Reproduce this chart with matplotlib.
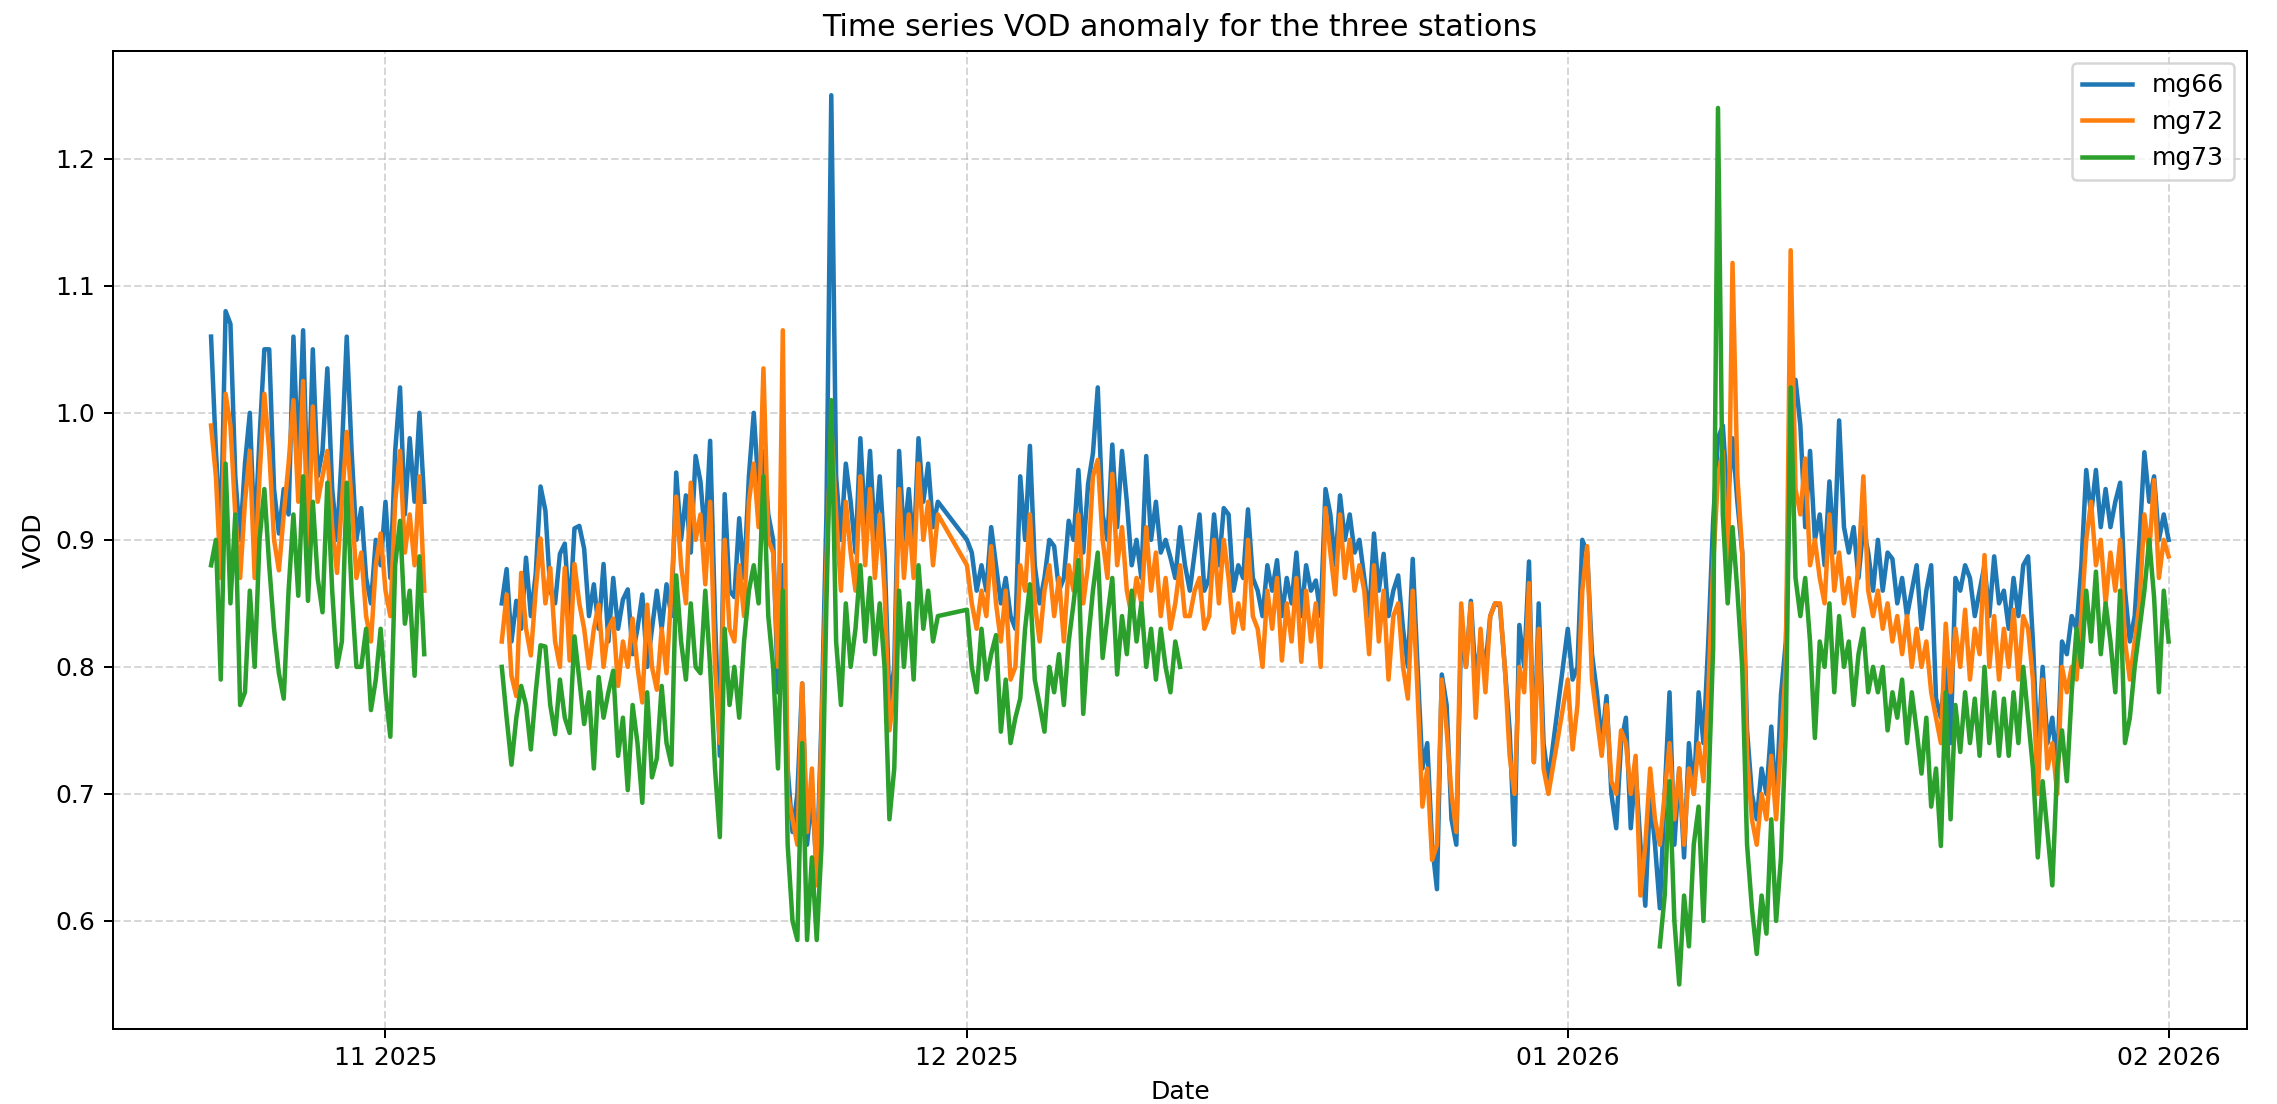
import numpy as np
import pandas as pd
import matplotlib
matplotlib.use('Agg')
from matplotlib import pyplot as plt
import matplotlib.dates as mdates

nan = np.nan

# 6-hourly samples, one row of 4 values per day

# Block A: 2025-10-23 00:00 .. 2025-11-03 00:00, then a hole in the record
a_start = '2025-10-23'
mg66_a = [1.06, 0.97, 0.90, 1.08, 1.07, 0.95, 0.90, 0.96, 1.00, 0.90, 0.98, 1.05,
          1.05, 0.94, 0.905, 0.94, 0.92, 1.06, 0.96, 1.065, 0.92, 1.05, 0.95, 0.97,
          1.035, 0.94, 0.90, 0.97, 1.06, 0.97, 0.90, 0.925, 0.87, 0.85, 0.90, 0.88,
          0.93, 0.87, 0.97, 1.02, 0.92, 0.98, 0.93, 1.00, 0.93]
mg72_a = [0.99, 0.95, 0.87, 1.015, 0.99, 0.92, 0.87, 0.93, 0.97, 0.87, 0.95, 1.015,
          0.97, 0.90, 0.876, 0.92, 0.96, 1.01, 0.93, 1.025, 0.89, 1.005, 0.93, 0.95,
          0.97, 0.91, 0.874, 0.93, 0.985, 0.93, 0.87, 0.89, 0.84, 0.82, 0.88, 0.905,
          0.86, 0.84, 0.93, 0.97, 0.89, 0.92, 0.88, 0.95, 0.86]
mg73_a = [0.88, 0.90, 0.79, 0.96, 0.85, 0.92, 0.77, 0.78, 0.86, 0.80, 0.90, 0.94,
          0.88, 0.83, 0.795, 0.775, 0.86, 0.92, 0.856, 0.95, 0.852, 0.93, 0.87, 0.843,
          0.945, 0.86, 0.80, 0.82, 0.945, 0.86, 0.80, 0.80, 0.83, 0.766, 0.79, 0.83,
          0.78, 0.745, 0.88, 0.915, 0.834, 0.86, 0.793, 0.887, 0.81]

# Block B: 2025-11-07 00:00 .. 2025-11-29 12:00 (then no rows until Dec 1)
b_start = '2025-11-07'
mg66_b = [0.85, 0.877, 0.82, 0.852, 0.83, 0.886, 0.84, 0.873, 0.942, 0.923, 0.86, 0.85,
          0.889, 0.897, 0.84, 0.909, 0.911, 0.893, 0.84, 0.865, 0.83, 0.881, 0.82, 0.87,
          0.83, 0.853, 0.861, 0.81, 0.83, 0.857, 0.80, 0.83, 0.86, 0.83, 0.865, 0.84,
          0.953, 0.90, 0.935, 0.89, 0.966, 0.946, 0.90,
          0.978, 0.84, 0.73, 0.936, 0.86, 0.855, 0.917, 0.87, 0.95, 1.00, 0.94, 0.97,
          0.92, 0.90, 0.78, 0.88, 0.72, 0.67, 0.70, 0.787, 0.66, 0.70, 0.64, 0.76,
          0.92, 1.25, 0.95, 0.90, 0.96, 0.93, 0.89, 0.98, 0.91, 0.97, 0.90, 0.95,
          0.89, 0.77, 0.80, 0.97, 0.90, 0.94, 0.89, 0.98, 0.93, 0.96, 0.91, 0.93]
mg72_b = [0.82, 0.857, 0.793, 0.777, 0.874, 0.83, 0.809, 0.86, 0.901, 0.85, 0.878, 0.82,
          0.80, 0.878, 0.805, 0.881, 0.85, 0.83, 0.799, 0.83, 0.849, 0.80, 0.83, 0.838,
          0.785, 0.82, 0.80, 0.838, 0.80, 0.772, 0.849, 0.80, 0.782, 0.83, 0.795, 0.86,
          0.934, 0.88, 0.85, 0.945, 0.90, 0.92, 0.865,
          0.93, 0.80, 0.74, 0.90, 0.83, 0.82, 0.88, 0.84, 0.93, 0.96, 0.91, 1.035,
          0.90, 0.89, 0.80, 1.065, 0.70, 0.68, 0.66, 0.787, 0.67, 0.72, 0.628, 0.75,
          0.88, 0.99, 0.92, 0.86, 0.93, 0.89, 0.86, 0.95, 0.88, 0.94, 0.87, 0.92,
          0.86, 0.75, 0.78, 0.94, 0.87, 0.92, 0.87, 0.96, 0.90, 0.93, 0.88, 0.92]
mg73_b = [0.80, 0.76, 0.723, 0.76, 0.785, 0.77, 0.735, 0.78, 0.817, 0.816, 0.77, 0.747,
          0.79, 0.76, 0.748, 0.824, 0.79, 0.755, 0.78, 0.72, 0.792, 0.76, 0.78, 0.797,
          0.73, 0.76, 0.703, 0.77, 0.74, 0.693, 0.78, 0.713, 0.728, 0.785, 0.74, 0.723,
          0.872, 0.82, 0.79, 0.85, 0.80, 0.795, 0.86,
          0.80, 0.72, 0.666, 0.83, 0.77, 0.80, 0.76, 0.82, 0.86, 0.88, 0.85, 0.95,
          0.84, 0.80, 0.72, 0.86, 0.66, 0.60, 0.585, 0.74, 0.585, 0.65, 0.585, 0.66,
          0.85, 1.01, 0.82, 0.77, 0.85, 0.80, 0.83, 0.88, 0.82, 0.87, 0.81, 0.85,
          0.80, 0.68, 0.72, 0.86, 0.80, 0.85, 0.79, 0.88, 0.83, 0.86, 0.82, 0.84]

# Block C: 2025-12-01 00:00 .. 2025-12-31 00:00 (mg73 stops mid December)
c_start = '2025-12-01'
mg66_c = [0.90, 0.89, 0.86, 0.88, 0.86, 0.91, 0.88, 0.85, 0.87, 0.84, 0.83, 0.95,
          0.90, 0.974, 0.88, 0.85, 0.87, 0.90, 0.895, 0.86, 0.87, 0.915, 0.90, 0.955,
          0.89, 0.944, 0.968, 1.02, 0.92, 0.90, 0.975, 0.91, 0.97, 0.93, 0.88, 0.90,
          0.87, 0.966, 0.90, 0.93, 0.89, 0.90, 0.886, 0.87, 0.91,
          0.88, 0.86, 0.89, 0.92, 0.86, 0.87, 0.92, 0.88, 0.925, 0.92, 0.86, 0.88,
          0.87, 0.924, 0.87, 0.86, 0.84, 0.88, 0.86, 0.884, 0.84, 0.87, 0.85, 0.89,
          0.84, 0.88, 0.86, 0.868, 0.84, 0.94, 0.92, 0.88, 0.935, 0.90, 0.92, 0.89,
          0.90, 0.87, 0.84, 0.905, 0.86, 0.889, 0.84, 0.86, 0.872, 0.83, 0.80, 0.885,
          0.80, 0.72, 0.74, 0.66, 0.625, 0.794, 0.77, 0.68, 0.66, 0.83, 0.80, 0.852,
          0.79, 0.82, 0.80, 0.84, 0.85, 0.848, 0.80, 0.75, 0.66, 0.833, 0.80, 0.883,
          0.725, 0.85, 0.74, 0.71]
mg72_c = [0.88, 0.85, 0.83, 0.86, 0.84, 0.895, 0.85, 0.82, 0.86, 0.79, 0.80, 0.88,
          0.86, 0.92, 0.85, 0.82, 0.86, 0.88, 0.84, 0.87, 0.82, 0.88, 0.86, 0.92,
          0.85, 0.88, 0.95, 0.963, 0.90, 0.87, 0.952, 0.88, 0.91, 0.86, 0.84, 0.87,
          0.85, 0.91, 0.86, 0.89, 0.84, 0.87, 0.83, 0.85, 0.88,
          0.84, 0.84, 0.86, 0.87, 0.83, 0.84, 0.90, 0.85, 0.90, 0.87, 0.827, 0.85,
          0.83, 0.90, 0.84, 0.83, 0.80, 0.86, 0.83, 0.87, 0.805, 0.85, 0.82, 0.87,
          0.804, 0.86, 0.82, 0.85, 0.80, 0.925, 0.89, 0.857, 0.92, 0.87, 0.90, 0.86,
          0.88, 0.86, 0.81, 0.88, 0.82, 0.86, 0.79, 0.84, 0.85, 0.80, 0.775, 0.86,
          0.78, 0.69, 0.72, 0.648, 0.66, 0.79, 0.75, 0.70, 0.67, 0.85, 0.80, 0.85,
          0.76, 0.83, 0.78, 0.84, 0.85, 0.85, 0.80, 0.73, 0.70, 0.80, 0.78, 0.866,
          0.725, 0.83, 0.72, 0.70]
mg73_c = [0.845, 0.80, 0.78, 0.83, 0.79, 0.81, 0.825, 0.749, 0.79, 0.74, 0.76, 0.775,
          0.83, 0.865, 0.79, 0.77, 0.749, 0.80, 0.78, 0.81, 0.77, 0.82, 0.85, 0.884,
          0.763, 0.82, 0.86, 0.89, 0.807, 0.84, 0.87, 0.794, 0.84, 0.81, 0.86, 0.82,
          0.85, 0.80, 0.83, 0.79, 0.83, 0.80, 0.78, 0.82, 0.80] + [nan] * 76

# Block D: 2026-01-01 00:00 .. 2026-02-01 00:00 (mg73 back from Jan 5)
d_start = '2026-01-01'
mg66_d = [0.83, 0.79, 0.80, 0.90, 0.89, 0.81, 0.78, 0.74, 0.777, 0.70, 0.673, 0.74,
          0.76, 0.673, 0.72, 0.66, 0.612, 0.70, 0.66, 0.61, 0.70, 0.78, 0.66, 0.72,
          0.65, 0.74, 0.70, 0.78, 0.74, 0.82, 0.915, 0.98, 0.99, 0.93, 0.98, 0.93,
          0.89, 0.75, 0.70, 0.68, 0.72, 0.70, 0.753, 0.69, 0.778, 0.82, 0.97, 1.026,
          0.99, 0.91, 0.97, 0.90, 0.92, 0.88, 0.946, 0.89, 0.994, 0.91, 0.89, 0.91,
          0.87, 0.91, 0.89, 0.86, 0.90, 0.86, 0.89, 0.885, 0.85, 0.87, 0.84, 0.86,
          0.88, 0.83, 0.86, 0.88, 0.775, 0.76, 0.80, 0.74, 0.87, 0.86, 0.88, 0.87,
          0.84, 0.86, 0.88, 0.84, 0.887, 0.85, 0.86, 0.83, 0.87, 0.84, 0.88, 0.887,
          0.82, 0.73, 0.80, 0.74, 0.76, 0.72, 0.82, 0.81, 0.84, 0.83, 0.88, 0.955,
          0.92, 0.955, 0.91, 0.94, 0.91, 0.93, 0.945, 0.86, 0.82, 0.84, 0.90, 0.969,
          0.93, 0.95, 0.90, 0.92, 0.90]
mg72_d = [0.79, 0.735, 0.77, 0.86, 0.895, 0.79, 0.76, 0.73, 0.77, 0.71, 0.70, 0.75,
          0.74, 0.70, 0.73, 0.62, 0.66, 0.72, 0.68, 0.66, 0.70, 0.74, 0.68, 0.72,
          0.66, 0.72, 0.70, 0.74, 0.71, 0.78, 0.88, 0.95, 0.97, 0.856, 1.118, 0.95,
          0.89, 0.73, 0.68, 0.66, 0.70, 0.68, 0.73, 0.68, 0.74, 0.80, 1.128, 0.94,
          0.92, 0.964, 0.88, 0.90, 0.87, 0.85, 0.92, 0.86, 0.89, 0.85, 0.87, 0.84,
          0.88, 0.95, 0.86, 0.84, 0.86, 0.83, 0.85, 0.82, 0.84, 0.81, 0.84, 0.80,
          0.83, 0.80, 0.82, 0.78, 0.76, 0.74, 0.834, 0.78, 0.83, 0.80, 0.845, 0.79,
          0.83, 0.81, 0.888, 0.80, 0.84, 0.79, 0.83, 0.80, 0.845, 0.79, 0.84, 0.83,
          0.79, 0.70, 0.79, 0.72, 0.74, 0.70, 0.80, 0.78, 0.80, 0.79, 0.84, 0.90,
          0.93, 0.88, 0.90, 0.85, 0.89, 0.86, 0.90, 0.82, 0.79, 0.82, 0.85, 0.92,
          0.89, 0.947, 0.87, 0.90, 0.887]
mg73_d = [nan] * 19 + [
          0.58, 0.62, 0.71, 0.60, 0.55, 0.62, 0.58, 0.66, 0.69, 0.60, 0.70, 0.815,
          1.24, 0.92, 0.85, 0.91, 0.86, 0.80, 0.66, 0.61, 0.574, 0.62, 0.59, 0.68,
          0.60, 0.65, 0.75, 1.02, 0.87, 0.84, 0.87, 0.82, 0.744, 0.82, 0.80, 0.85,
          0.78, 0.84, 0.80, 0.82, 0.77, 0.81, 0.83, 0.78, 0.80, 0.78, 0.80, 0.75,
          0.78, 0.76, 0.79, 0.74, 0.78, 0.75, 0.716, 0.76, 0.69, 0.72, 0.659, 0.78,
          0.68, 0.77, 0.733, 0.78, 0.74, 0.775, 0.73, 0.80, 0.74, 0.78, 0.73, 0.775,
          0.73, 0.78, 0.74, 0.80, 0.76, 0.72, 0.65, 0.71, 0.67, 0.628, 0.72, 0.75,
          0.71, 0.78, 0.83, 0.80, 0.86, 0.82, 0.875, 0.81, 0.85, 0.82, 0.78, 0.86,
          0.74, 0.76, 0.80, 0.83, 0.86, 0.90, 0.855, 0.78, 0.86, 0.82]

stations = ['mg66', 'mg72', 'mg73']


def block(start, n):
    return pd.date_range(start, periods=n, freq='6h')


# Assemble the series; a NaN row splits block A from block B (no data Nov 3-7)
gap_time = pd.DatetimeIndex(['2025-11-05'])
times = block(a_start, len(mg66_a)).append(gap_time) \
    .append(block(b_start, len(mg66_b))) \
    .append(block(c_start, len(mg66_c))) \
    .append(block(d_start, len(mg66_d)))

df = pd.DataFrame({
    'mg66': mg66_a + [nan] + mg66_b + mg66_c + mg66_d,
    'mg72': mg72_a + [nan] + mg72_b + mg72_c + mg72_d,
    'mg73': mg73_a + [nan] + mg73_b + mg73_c + mg73_d,
}, index=times)

# Plot
fig, ax = plt.subplots(figsize=(2277 / 180, 1104 / 180), dpi=180)
fig.subplots_adjust(left=0.0496, right=0.9868, top=0.954, bottom=0.068)

for name in stations:
    ax.plot(df.index, df[name], label=name, linewidth=1.8)

ax.set_xlim(pd.Timestamp('2025-10-17 22:30'), pd.Timestamp('2026-02-05 01:00'))
ax.xaxis.set_major_locator(mdates.MonthLocator())
ax.xaxis.set_major_formatter(mdates.DateFormatter('%m %Y'))

ax.set_title('Time series VOD anomaly for the three stations')
ax.set_xlabel('Date')
ax.set_ylabel('VOD')
ax.grid(True, linestyle='--', alpha=0.5)
ax.legend(loc='upper right')

fig.savefig('out.png', dpi=180)
